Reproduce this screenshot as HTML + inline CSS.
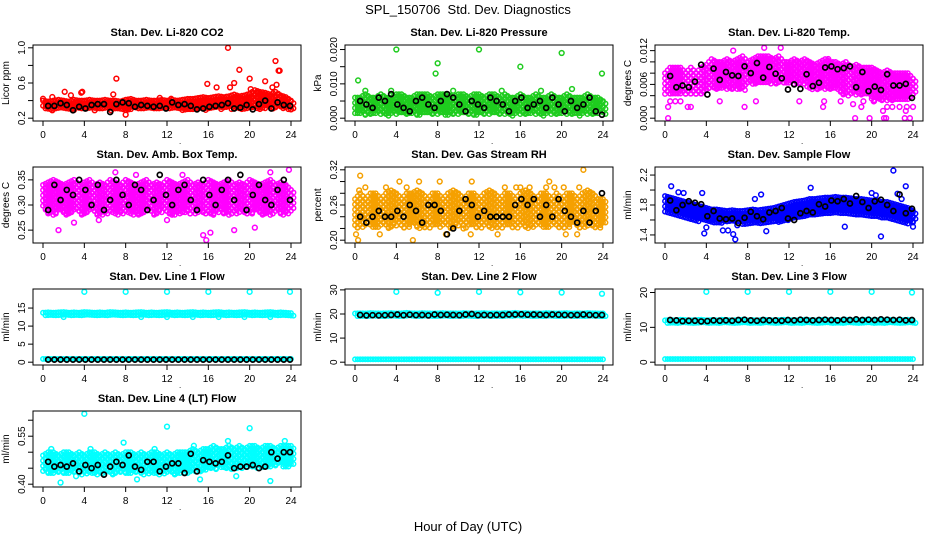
<!DOCTYPE html>
<html><head><meta charset="utf-8">
<style>
html,body{margin:0;padding:0;background:#fff;}
svg{display:block;font-family:"Liberation Sans",Arial,sans-serif;}
</style></head>
<body>
<svg id="chart" width="936" height="540" viewBox="0 0 936 540" xmlns="http://www.w3.org/2000/svg">
<text x="468" y="14" text-anchor="middle" font-size="13">SPL_150706&#160; Std. Dev. Diagnostics</text>
<text x="468" y="531" text-anchor="middle" font-size="13">Hour of Day (UTC)</text>
<g id="plots"></g>
</svg>
<script>
// ---- data (band lows/highs every 0.5 h, outliers [hour,value], black points) ----
const co2Lo=[.30,.30,.29,.30,.30,.30,.29,.30,.30,.30,.30,.29,.30,.30,.30,.30,.29,.30,.30,.30,.30,.30,.29,.30,.30,.30,.30,.29,.30,.30,.30,.29,.30,.30,.30,.30,.30,.31,.30,.30,.31,.30,.30,.31,.30,.30,.31,.30,.30];
const co2Hi=[.40,.39,.40,.41,.40,.39,.41,.40,.40,.41,.40,.40,.41,.40,.40,.39,.41,.42,.40,.40,.41,.40,.40,.41,.40,.41,.40,.41,.42,.42,.43,.44,.43,.44,.45,.44,.45,.47,.45,.46,.48,.52,.50,.49,.47,.50,.46,.44,.40];
const co2Out=[[0,.42],[.9,.44],[2.1,.5],[2.7,.46],[3.7,.49],[3.8,.5],[6.8,.47],[7.1,.65],[8,.24],[11.3,.43],[12.4,.42],[15.9,.59],[16.8,.55],[17.9,1.0],[18.1,.55],[18.5,.6],[19,.75],[20,.65],[20.1,.53],[21.5,.62],[22.2,.55],[22.5,.85],[22.6,.58],[22.8,.74],[22.9,.74],[24,.3],[.9,.29],[5,.29],[6.6,.29]];
const co2Black=[.34,.34,.37,.35,.29,.33,.31,.35,.36,.36,.27,.36,.38,.37,.33,.35,.34,.33,.34,.31,.38,.35,.36,.34,.30,.31,.33,.34,.35,.37,.31,.32,.35,.30,.36,.40,.31,.38,.35,.34];
const presLo=[.001,.001,.0005,.001,.001,.001,.0005,.001,.001,.001,.001,.001,.0005,.001,.001,.001,.001,.001,.0005,.001,.001,.001,.001,.0005,.001,.001,.001,.001,.001,.001,.0005,.001,.001,.001,.001,.001,.0005,.001,.001,.001,.001,.001,.001,.0005,.001,.001,.001,.001,.001];
const presHi=[.006,.006,.007,.006,.006,.007,.006,.006,.007,.007,.006,.006,.007,.007,.007,.006,.007,.007,.007,.006,.007,.007,.006,.007,.007,.006,.007,.007,.006,.007,.006,.006,.007,.006,.006,.007,.006,.006,.007,.006,.006,.007,.006,.006,.006,.007,.006,.006,.005];
const presOut=[[.3,.011],[4,.020],[7.8,.013],[8,.016],[12,.020],[16,.015],[20,.019],[23.9,.013],[1,.008],[3.5,.008],[9.5,.008],[14.2,.008],[18,.008],[21,.0085]];
const presBlack=[.005,.004,.003,.006,.005,.007,.004,.003,.002,.005,.006,.004,.003,.005,.007,.006,.004,.002,.005,.004,.003,.006,.005,.004,.002,.005,.006,.003,.004,.005,.003,.006,.004,.002,.005,.003,.004,.006,.002,.001];
const tempLo=[.004,.004,.004,.004,.004,.004,.004,.004,.005,.005,.005,.005,.005,.005,.005,.005,.006,.006,.006,.006,.006,.006,.006,.006,.006,.006,.006,.006,.005,.005,.005,.005,.005,.005,.004,.004,.004,.004,.004,.004,.003,.003,.003,.003,.003,.003,.003,.003,.004];
const tempHi=[.008,.009,.009,.009,.008,.009,.008,.009,.0095,.0105,.010,.010,.0105,.010,.0105,.011,.010,.0105,.011,.011,.011,.0105,.011,.010,.010,.0105,.010,.0105,.010,.0095,.010,.0105,.010,.010,.0095,.010,.009,.0095,.009,.009,.009,.0085,.008,.0085,.008,.008,.008,.008,.007];
const tempOut=[[.3,0],[18.4,0],[19.8,0],[21.2,0],[21.4,0],[23.2,0],[23.7,0],[.3,.002],[2.2,.002],[2.5,.002],[7.7,.002],[15.3,.002],[19,.002],[21.5,.002],[22,.002],[22.7,.002],[23.4,.002],[24,.002],[21.1,.0013],[23.3,.0013],[.5,.003],[1,.003],[1.5,.003],[5.3,.003],[8.8,.003],[13,.003],[15.4,.003],[17,.003],[18.2,.0025],[19.2,.003],[20.2,.003],[6.6,.012],[9.6,.0125],[11.2,.0125],[15.8,.0105]];
const tempBlack=[.0075,.0055,.0058,.0055,.0065,.0095,.0042,.0088,.0068,.0082,.0076,.0075,.0092,.0080,.0098,.0072,.0091,.0079,.0071,.0051,.0060,.0052,.0078,.0057,.0063,.0090,.0092,.0087,.0089,.0092,.0055,.0082,.0048,.0056,.0050,.0078,.0058,.0058,.0061,.0036];
const ambLo=[.29,.28,.28,.29,.28,.28,.29,.28,.28,.29,.28,.28,.28,.29,.28,.28,.29,.28,.28,.28,.29,.28,.28,.29,.28,.28,.28,.29,.28,.28,.29,.28,.28,.28,.29,.28,.28,.28,.29,.28,.28,.29,.28,.28,.28,.29,.28,.28,.29];
const ambHi=[.34,.345,.35,.345,.34,.345,.35,.34,.345,.35,.34,.345,.34,.35,.345,.34,.35,.345,.34,.345,.35,.34,.345,.34,.35,.345,.34,.345,.35,.34,.345,.34,.35,.345,.34,.345,.35,.34,.345,.34,.35,.345,.34,.345,.35,.34,.345,.34,.33];
const ambOut=[[1.5,.25],[3,.265],[9,.36],[15.5,.24],[15.8,.23],[16.2,.245],[18.5,.25],[20.5,.255],[22,.365],[23.8,.37],[5.4,.27],[12,.27],[13.5,.36],[7,.365]];
const ambBlack=[.29,.34,.31,.33,.32,.35,.33,.30,.34,.29,.31,.35,.32,.30,.34,.33,.29,.31,.36,.32,.30,.33,.34,.31,.29,.35,.32,.30,.33,.35,.31,.36,.29,.32,.34,.31,.30,.33,.35,.31];
const rhLo=[.22,.22,.23,.22,.22,.23,.22,.22,.23,.22,.22,.23,.22,.22,.22,.23,.22,.23,.22,.22,.23,.22,.23,.22,.22,.23,.22,.22,.22,.23,.22,.22,.23,.22,.22,.23,.22,.22,.23,.22,.22,.22,.23,.22,.22,.23,.22,.22,.23];
const rhHi=[.27,.28,.27,.28,.28,.27,.28,.285,.28,.27,.28,.28,.285,.28,.27,.28,.28,.27,.28,.285,.28,.27,.28,.28,.27,.28,.285,.28,.27,.28,.28,.27,.28,.285,.28,.27,.28,.28,.27,.28,.27,.28,.28,.27,.28,.285,.28,.27,.27];
const rhOut=[[.1,.21],[.3,.2],[.5,.31],[1,.29],[3,.29],[4.3,.3],[5,.29],[5.6,.2],[6.2,.3],[8.2,.3],[8.8,.21],[9.7,.28],[11.3,.3],[13.8,.21],[14.5,.29],[15.6,.29],[16,.29],[16.9,.29],[18.5,.29],[18.8,.3],[19.3,.29],[20.2,.29],[20.4,.21],[21.5,.21],[21.7,.29],[22.1,.32],[11.2,.21],[2.4,.21],[10.5,.22],[0.4,.285]];
const rhBlack=[.24,.23,.24,.25,.24,.24,.25,.24,.26,.25,.23,.26,.26,.25,.21,.22,.25,.27,.26,.24,.25,.24,.24,.24,.24,.26,.27,.26,.27,.24,.26,.24,.27,.25,.24,.23,.25,.23,.25,.28];
const flowLo=[1.70,1.68,1.66,1.64,1.62,1.60,1.58,1.58,1.56,1.56,1.55,1.56,1.55,1.56,1.55,1.54,1.55,1.56,1.55,1.56,1.55,1.56,1.57,1.58,1.58,1.60,1.62,1.62,1.64,1.65,1.66,1.66,1.68,1.68,1.66,1.67,1.66,1.65,1.64,1.63,1.62,1.62,1.60,1.60,1.58,1.58,1.56,1.55,1.55];
const flowHi=[1.92,1.90,1.88,1.86,1.84,1.82,1.80,1.78,1.76,1.74,1.74,1.73,1.72,1.73,1.72,1.72,1.73,1.74,1.73,1.74,1.75,1.76,1.78,1.80,1.82,1.84,1.85,1.86,1.88,1.88,1.89,1.90,1.90,1.91,1.90,1.90,1.89,1.88,1.88,1.87,1.86,1.86,1.84,1.84,1.82,1.80,1.78,1.76,1.72];
const flowOut=[[.6,2.05],[1.3,1.97],[1.8,1.96],[3.6,1.96],[3.8,1.42],[4,1.50],[5.6,1.46],[6.1,1.46],[6.6,1.41],[6.8,1.34],[8.7,1.88],[9.3,1.94],[9.8,1.45],[14.1,2.03],[17.4,1.51],[20,1.96],[20.4,1.93],[20.9,1.38],[22.1,2.26],[22.5,1.95],[22.9,1.88],[23.3,2.05],[24,1.51],[7,1.53],[11.9,1.6]];
const flowBlack=[1.86,1.73,1.80,1.85,1.83,1.81,1.65,1.72,1.62,1.61,1.62,1.56,1.63,1.71,1.65,1.61,1.70,1.72,1.76,1.62,1.60,1.69,1.72,1.70,1.81,1.78,1.86,1.85,1.88,1.82,1.92,1.84,1.76,1.85,1.87,1.80,1.72,1.94,1.69,1.75];
const l1Lo=[12.4,12.5,12.4,12.5,12.4,12.4,12.5,12.4,12.5,12.4,12.4,12.5,12.4,12.5,12.4,12.4,12.5,12.4,12.5,12.4,12.4,12.5,12.4,12.5,12.4,12.4,12.5,12.4,12.5,12.4,12.4,12.5,12.4,12.5,12.4,12.4,12.5,12.4,12.5,12.4,12.4,12.5,12.4,12.5,12.4,12.4,12.5,12.4,12.4];
const l1Hi=[13.7,13.8,13.7,13.8,13.9,13.7,13.8,13.7,13.9,13.8,13.7,13.8,13.7,13.9,13.8,13.7,13.8,13.7,13.8,13.9,13.7,13.8,13.7,13.8,13.9,13.7,13.8,13.7,13.8,13.9,13.7,13.8,13.7,13.8,13.9,13.7,13.8,13.7,13.8,13.9,13.7,13.8,13.7,13.8,13.9,13.7,13.8,13.7,13.6];
const l1Out=[[4,19.5],[8,19.5],[12,19.5],[16,19.5],[20,19.5],[23.9,19.5]];
const l1Black=[.7,.7,.7,.7,.7,.7,.7,.7,.7,.7,.7,.7,.7,.7,.7,.7,.7,.7,.7,.7,.7,.7,.7,.7,.7,.7,.7,.7,.7,.7,.7,.7,.7,.7,.7,.7,.7,.7,.7,.7];
const l2Lo=[19.0,19.0,19.1,19.0,19.0,19.1,19.0,19.0,19.1,19.0,19.0,19.1,19.0,19.0,19.1,19.0,19.0,19.1,19.0,19.0,19.1,19.0,19.0,19.1,19.0,19.0,19.1,19.0,19.0,19.1,19.0,19.0,19.1,19.0,19.0,19.1,19.0,19.0,19.1,19.0,19.0,19.1,19.0,19.0,19.1,19.0,19.0,19.1,19.0];
const l2Hi=[20.2,20.3,20.2,20.4,20.3,20.2,20.3,20.4,20.2,20.3,20.5,20.3,20.2,20.4,20.3,20.2,20.3,20.4,20.2,20.3,20.2,20.4,20.3,20.2,20.3,20.4,20.2,20.3,20.2,20.4,20.3,20.5,20.3,20.4,20.2,20.3,20.2,20.4,20.3,20.2,20.3,20.4,20.2,20.3,20.2,20.4,20.3,20.2,20.2];
const l2Out=[[4,29.2],[8,28.8],[12,29.2],[16,29.0],[20,28.9],[23.9,28.4]];
const l2Black=[19.6,19.4,19.5,19.4,19.5,19.6,19.8,19.5,19.7,19.5,19.6,19.4,19.8,19.6,19.7,19.6,19.5,19.8,20.0,19.5,19.6,19.5,19.6,19.6,19.8,19.8,19.9,19.7,19.8,19.7,19.6,19.8,19.7,19.6,19.5,19.6,19.8,19.6,19.5,19.6];
const l3Lo=[11.0,11.0,11.1,11.0,11.0,11.1,11.0,11.0,11.1,11.0,11.0,11.1,11.0,11.0,11.1,11.0,11.0,11.1,11.0,11.0,11.1,11.0,11.0,11.1,11.0,11.0,11.1,11.0,11.0,11.1,11.0,11.0,11.1,11.0,11.0,11.1,11.0,11.0,11.1,11.0,11.0,11.1,11.0,11.0,11.1,11.0,11.0,11.1,11.0];
const l3Hi=[12.0,12.1,12.0,12.2,12.1,12.0,12.1,12.2,12.0,12.1,12.0,12.2,12.1,12.0,12.1,12.2,12.0,12.1,12.0,12.2,12.1,12.0,12.1,12.2,12.0,12.1,12.0,12.2,12.1,12.0,12.1,12.2,12.0,12.1,12.0,12.2,12.1,12.0,12.1,12.2,12.0,12.1,12.0,12.2,12.1,12.0,12.1,12.2,12.0];
const l3Out=[[4,20.2],[8,20.2],[12,20.2],[16,20.2],[20,20.2],[23.9,20.0]];
const l3Black=[12.1,12.0,11.8,11.9,11.9,11.7,11.8,12.0,11.9,12.0,11.9,12.1,12.2,12.0,11.9,12.1,12.0,12.0,11.9,12.1,12.0,12.2,12.1,12.0,12.1,12.2,12.1,12.0,12.2,12.1,12.3,12.1,12.2,12.1,12.3,12.2,12.1,12.2,12.0,12.1];
const lowLo=[.44,.43,.43,.44,.43,.43,.44,.43,.43,.44,.43,.43,.44,.43,.43,.44,.43,.43,.44,.43,.43,.44,.43,.43,.44,.43,.43,.44,.43,.44,.44,.44,.45,.44,.45,.45,.44,.45,.45,.45,.46,.45,.45,.46,.45,.46,.46,.45,.46];
const lowHi=[.49,.50,.50,.49,.50,.50,.49,.50,.49,.50,.50,.49,.50,.49,.50,.49,.50,.50,.49,.50,.49,.50,.50,.49,.50,.49,.50,.50,.50,.51,.50,.51,.51,.52,.51,.51,.52,.51,.52,.51,.52,.52,.51,.52,.52,.51,.52,.52,.52];
const lowOut=[[4,.62],[12,.58],[20,.575],[1.7,.405],[22,.41],[.8,.51],[4.6,.51],[7.8,.53],[10.8,.51],[14.6,.52],[17.9,.535],[23.4,.535],[3.2,.425],[9.1,.415],[15.2,.415],[18.7,.425]];
const lowBlack=[.47,.455,.46,.455,.465,.44,.46,.45,.46,.43,.455,.47,.46,.49,.455,.445,.47,.47,.44,.455,.465,.465,.435,.495,.44,.475,.47,.465,.47,.49,.45,.455,.455,.46,.45,.455,.50,.48,.50,.50];
</script>
<script>
const panels=[
 {t:"Stan. Dev. Li-820 CO2",yl:"Licor ppm",c:0,r:0,min:.2,max:1.0,ticks:[.2,.4,.6,.8,1.0],labs:["0.2","","0.6","","1.0"],col:"#ff0000",lo:co2Lo,hi:co2Hi,out:co2Out,blk:co2Black,n:"co2"},
 {t:"Stan. Dev. Li-820 Pressure",yl:"kPa",c:1,r:0,min:0,max:.0205,ticks:[0,.005,.01,.015,.02],labs:["0.000","","0.010","","0.020"],col:"#1fcc1f",lo:presLo,hi:presHi,out:presOut,blk:presBlack,n:"pressure"},
 {t:"Stan. Dev. Li-820 Temp.",yl:"degrees C",c:2,r:0,min:0,max:.0125,ticks:[0,.002,.004,.006,.008,.010,.012],labs:["0.000","","","0.006","","","0.012"],col:"#ff00ff",lo:tempLo,hi:tempHi,out:tempOut,blk:tempBlack,n:"temp"},
 {t:"Stan. Dev. Amb. Box Temp.",yl:"degrees C",c:0,r:1,min:.23,max:.37,ticks:[.25,.30,.35],labs:["0.25","0.30","0.35"],col:"#ff00ff",lo:ambLo,hi:ambHi,out:ambOut,blk:ambBlack,n:"amb-temp"},
 {t:"Stan. Dev. Gas Stream RH",yl:"percent",c:1,r:1,min:.2,max:.32,ticks:[.20,.22,.24,.26,.28,.30,.32],labs:["0.20","","","0.26","","","0.32"],col:"#f5a000",lo:rhLo,hi:rhHi,out:rhOut,blk:rhBlack,n:"rh"},
 {t:"Stan. Dev. Sample Flow",yl:"ml/min",c:2,r:1,min:1.33,max:2.27,ticks:[1.4,1.6,1.8,2.0,2.2],labs:["1.4","","1.8","","2.2"],col:"#0000ff",lo:flowLo,hi:flowHi,out:flowOut,blk:flowBlack,n:"sample-flow"},
 {t:"Stan. Dev. Line 1 Flow",yl:"ml/min",c:0,r:2,min:0,max:19.5,ticks:[0,5,10,15],labs:["0","5","10","15"],col:"#00ffff",lo:l1Lo,hi:l1Hi,lo2:.3,hi2:.9,out:l1Out,blk:l1Black,n:"line1"},
 {t:"Stan. Dev. Line 2 Flow",yl:"ml/min",c:1,r:2,min:0,max:29.2,ticks:[0,10,20,30],labs:["0","10","20","30"],col:"#00ffff",lo:l2Lo,hi:l2Hi,lo2:.3,hi2:1.2,out:l2Out,blk:l2Black,n:"line2"},
 {t:"Stan. Dev. Line 3 Flow",yl:"ml/min",c:2,r:2,min:0,max:20.2,ticks:[0,10,20],labs:["0","10","20"],col:"#00ffff",lo:l3Lo,hi:l3Hi,lo2:.3,hi2:.9,out:l3Out,blk:l3Black,n:"line3"},
 {t:"Stan. Dev. Line 4 (LT) Flow",yl:"ml/min",c:0,r:3,min:.40,max:.62,ticks:[.40,.45,.50,.55,.60],labs:["0.40","","","0.55",""],col:"#00ffff",lo:lowLo,hi:lowHi,out:lowOut,blk:lowBlack,n:"line4"}
];
const NS="http://www.w3.org/2000/svg";
const root=document.getElementById("plots");
function mk(tag,attrs,parent){const e=document.createElementNS(NS,tag);for(const k in attrs)e.setAttribute(k,attrs[k]);parent.appendChild(e);return e;}
const lefts=[33,345,655];
panels.forEach(p=>{
  const L=lefts[p.c],W=268,T=45+122*p.r,H=76;
  const g=mk("g",{},root);
  
  
  const xs=v=>L+10+v/24*(W-20);
  const pad=(p.max-p.min)*0.04;
  const ys=v=>T+H-(v-p.min+pad)/(p.max-p.min+2*pad)*H;
  const tt=mk("text",{x:L+W/2,y:T-9,"text-anchor":"middle","font-size":"11","font-weight":"bold"},g);tt.textContent=p.t;
  
  
  const yl=mk("text",{x:0,y:0,"text-anchor":"middle","font-size":"10",transform:`translate(${L-24},${T+H/2}) rotate(-90)`},g);yl.textContent=p.yl;
  
  
  const pts=mk("g",{fill:"none",stroke:p.col,"stroke-width":"1.5"},g);
  
  
  const band=(lo,hi,i,off)=>{
    const t=i*0.5;const y1=ys(hi),y0=ys(lo);
    let k=0;
    for(let y=y1;y<=y0+0.1;y+=2.6){mk("circle",{cx:xs(t)+(k%2?2.5:0)+off,cy:y,r:2.2},pts);k++;}
    if(k===0)mk("circle",{cx:xs(t)+off,cy:(y0+y1)/2,r:2.2},pts);
  };
  p.lo.forEach((v,i)=>{band(v,p.hi[i],i,0);if(i<48)band((v+p.lo[i+1])/2,(p.hi[i]+p.hi[i+1])/2,i,2.6);});
  if(p.lo2!==undefined){for(let i=0;i<97;i++){const t=i*0.25;for(let y=ys(p.hi2);y<=ys(p.lo2)+0.1;y+=2.6)mk("circle",{cx:xs(t),cy:y,r:2.2},pts);}}
  p.out.forEach(o=>mk("circle",{cx:xs(o[0]),cy:ys(o[1]),r:2.4},pts));
  const bg=mk("g",{fill:"none",stroke:"#000","stroke-width":"1.7"},g);
  
  
  p.blk.forEach((v,i)=>mk("circle",{cx:xs(0.5+i*0.6),cy:ys(v),r:2.5},bg));
  const bx=mk("rect",{x:L,y:T,width:W,height:H,fill:"none",stroke:"#000","stroke-width":"1"},g);
  
  
  [0,4,8,12,16,20,24].forEach(v=>{
    mk("line",{x1:xs(v),x2:xs(v),y1:T+H,y2:T+H+5,stroke:"#000"},g);
    const tx=mk("text",{x:xs(v),y:T+H+17,"text-anchor":"middle","font-size":"10"},g);tx.textContent=v;
    
    
  });
  const dot=mk("text",{x:L+146,y:T+H+23,"font-size":"8"},g);dot.textContent=".";
  p.ticks.forEach((v,i)=>{
    mk("line",{x1:L-5,x2:L,y1:ys(v),y2:ys(v),stroke:"#000"},g);
    if(p.labs[i]){const ty=mk("text",{x:0,y:0,"text-anchor":"middle","font-size":"10",transform:`translate(${L-8},${ys(v)}) rotate(-90)`},g);ty.textContent=p.labs[i];
    
    }
  });
});
</script>
</body></html>
